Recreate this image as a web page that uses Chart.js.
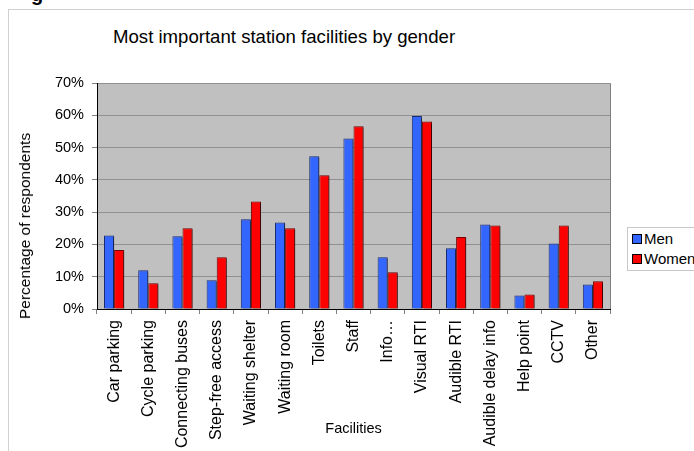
<!DOCTYPE html>
<html>
<head>
<meta charset="utf-8">
<script src="https://cdn.jsdelivr.net/npm/chart.js@4/dist/chart.umd.min.js"></script>
<style>
  body { margin: 0; background: #fff; font-family: "Liberation Sans", Arial, sans-serif; }
  #wrap { position: relative; width: 694px; height: 451px; overflow: hidden; }
  #frame { position: absolute; left: 8px; top: 9px; width: 700px; height: 460px; border-left: 1px solid #d0d0d0; border-top: 1px solid #d0d0d0; }
  #heading { position: absolute; left: 31px; top: -17px; font-size: 20px; font-weight: bold; color: #000; }
  #title { position: absolute; left: 113px; top: 26px; font-size: 18.6px; color: #000; white-space: nowrap; }
  #ytitle { position: absolute; left: 25px; top: 226px; font-size: 15.5px; color: #000; white-space: nowrap;
            transform: translate(-50%, -50%) rotate(-90deg); z-index: 2; }
  #legend { position: absolute; left: 627px; top: 227px; width: 80px; height: 42px; border: 1px solid #c8c8c8; background: #fff; font-size: 15px; }
  .item { position: absolute; left: 4px; height: 17px; line-height: 17px; white-space: nowrap; }
  .sw { display: inline-block; width: 8px; height: 8px; border: 1px solid #000; margin-right: 2px; vertical-align: 0px; }
  canvas { position: absolute; left: 0; top: 0; }
</style>
</head>
<body>
<div id="wrap">
  <div id="frame"></div>
  <div id="heading">g</div>
  <div id="title">Most important station facilities by gender</div>
  <canvas id="chart" width="694" height="451"></canvas>
  <div id="ytitle">Percentage of respondents</div>
  <div id="legend">
    <div class="item" style="top:2px"><span class="sw" style="background:#3366ff"></span>Men</div>
    <div class="item" style="top:22px"><span class="sw" style="background:#ff0000"></span>Women</div>
  </div>
</div>
<script>
const facilities = ['Car parking', 'Cycle parking', 'Connecting buses', 'Step-free access', 'Waiting shelter',
  'Waiting room', 'Toilets', 'Staff', 'Info…', 'Visual RTI', 'Audible RTI', 'Audible delay info',
  'Help point', 'CCTV', 'Other'];
const men = [22.8, 12.0, 22.5, 8.9, 27.8, 26.8, 47.3, 52.8, 16.0, 59.8, 18.8, 26.2, 4.2, 20.3, 7.6];
const women = [18.3, 8.0, 25.0, 16.0, 33.3, 25.0, 41.4, 56.6, 11.4, 58.1, 22.3, 25.9, 4.5, 25.9, 8.6];
const yTicks = [0, 10, 20, 30, 40, 50, 60, 70];

const plotBg = {
  id: 'plotBg',
  beforeDraw(chart) {
    const { ctx, chartArea: a } = chart;
    ctx.save();
    ctx.fillStyle = '#c0c0c0';
    ctx.fillRect(a.left, a.top, a.right - a.left, a.bottom - a.top);
    ctx.strokeStyle = '#808080';
    ctx.lineWidth = 1;
    ctx.beginPath();
    ctx.moveTo(a.left, a.top + 0.5);
    ctx.lineTo(a.right + 0.5, a.top + 0.5);
    ctx.lineTo(a.right + 0.5, a.bottom);
    ctx.stroke();
    ctx.restore();
  },
  beforeDatasetsDraw(chart) {
    const ctx = chart.ctx;
    ctx.save();
    ctx.shadowColor = 'rgba(0,0,0,0.45)';
    ctx.shadowOffsetX = 2;
    ctx.shadowOffsetY = 1;
    ctx.shadowBlur = 0;
  },
  afterDatasetsDraw(chart) {
    chart.ctx.restore();
  }
};

new Chart(document.getElementById('chart'), {
  type: 'bar',
  data: {
    labels: facilities,
    datasets: [
      { label: 'Men', data: men, backgroundColor: '#3366ff', borderColor: '#1a2a70', borderWidth: 1 },
      { label: 'Women', data: women, backgroundColor: '#ff0000', borderColor: '#700000', borderWidth: 1 }
    ]
  },
  options: {
    responsive: false,
    animation: false,
    devicePixelRatio: 1,
    layout: { padding: { left: 8, right: 84, top: 83, bottom: 0 } },
    datasets: { bar: { categoryPercentage: 0.59, barPercentage: 1 } },
    plugins: { legend: { display: false }, tooltip: { enabled: false } },
    scales: {
      x: {
        offset: true,
        afterFit(s) { s.height = 142; },
        grid: { offset: true, drawOnChartArea: false, color: '#000', tickLength: 5, tickColor: '#808080' },
        border: { color: '#000', width: 1 },
        ticks: { color: '#000', font: { family: 'Liberation Sans', size: 16 }, maxRotation: 90, minRotation: 90, padding: 6, autoSkip: false },
        title: { display: true, text: 'Facilities', color: '#000', font: { family: 'Liberation Sans', size: 14.5 }, padding: { top: 0, bottom: 13 } }
      },
      y: {
        min: 0, max: 70,
        afterFit(s) { s.width = 89; },
        afterBuildTicks(s) { s.ticks = yTicks.map(v => ({ value: v })); },
        grid: { color: '#909090', tickLength: 5, tickColor: '#808080' },
        border: { color: '#000', width: 1 },
        ticks: { color: '#000', font: { family: 'Liberation Sans', size: 14.5 }, padding: 8, callback: v => v + '%' }
      }
    }
  },
  plugins: [plotBg]
});
</script>
</body>
</html>
